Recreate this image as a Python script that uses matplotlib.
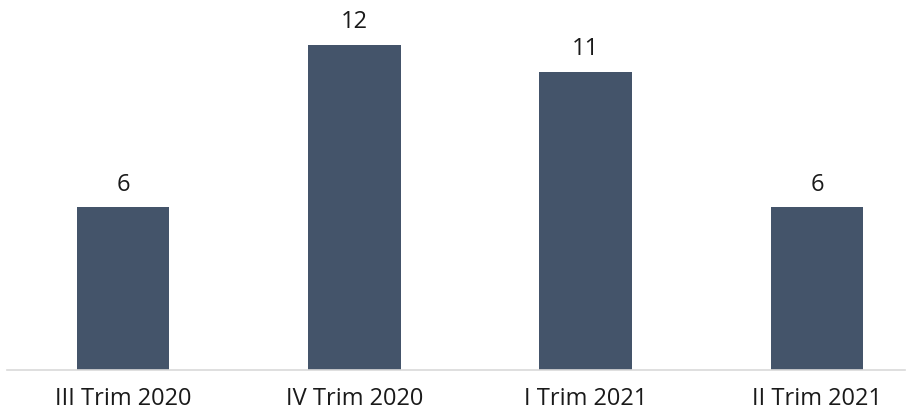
import matplotlib.pyplot as plt

categories = ['III Trim 2020', 'IV Trim 2020', 'I Trim 2021', 'II Trim 2021']
values = [6, 12, 11, 6]

plt.rcParams['font.family'] = ['Open Sans', 'DejaVu Sans']

fig = plt.figure(figsize=(9.1, 4.12), dpi=100)
# baseline at y=370px, one unit = 27.1px
unit = 27.1 / 412
ax = fig.add_axes([7.3 / 910, 42 / 412, (905 - 7.3) / 910, 13.5 * unit])

x = range(len(categories))
bars = ax.bar(x, values, width=0.4, color='#44546A')
for xi, v in zip(x, values):
    ax.text(xi, v + 0.4, str(v), ha='center', va='bottom', fontsize=17, color='#1a1a1a')

ax.set_xlim(-0.5, 3.38)
ax.set_ylim(0, 13.5)
ax.set_xticks(list(x))
ax.set_xticklabels(categories, fontsize=17, color='#1a1a1a')
ax.tick_params(axis='x', length=0, pad=12)
ax.set_yticks([])
for s in ['top', 'right', 'left']:
    ax.spines[s].set_visible(False)
ax.spines['bottom'].set_color('#D9D9D9')
ax.spines['bottom'].set_linewidth(1.2)

fig.savefig('out.png', dpi=100)
